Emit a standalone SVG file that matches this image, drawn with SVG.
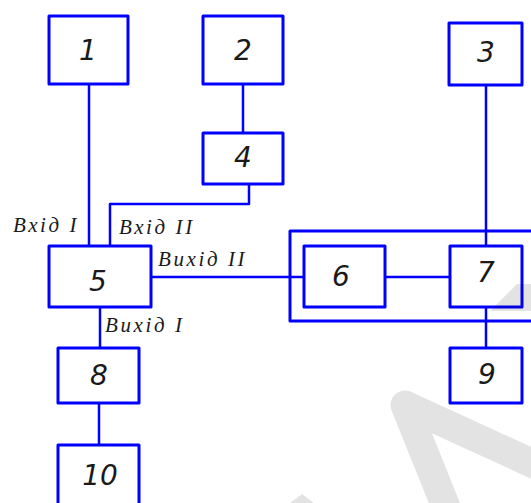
<svg xmlns="http://www.w3.org/2000/svg" width="531" height="503" viewBox="0 0 531 503">
  <style>
    .box { fill: #ffffff; stroke: #0000ff; stroke-width: 3; stroke-linejoin: round; }
    .frame { fill: none; stroke: #0000ff; stroke-width: 3; stroke-linejoin: round; }
    .wire { fill: none; stroke: #0000ff; stroke-width: 2.5; stroke-linejoin: round; }
    .num { font-family: "DejaVu Sans", "Liberation Sans", sans-serif; font-style: italic; font-size: 28px; fill: #1a1a1a; text-anchor: middle; }
    .lbl { font-family: "Liberation Serif", "DejaVu Serif", serif; font-style: italic; font-size: 21px; letter-spacing: 2.6px; fill: #1a1a1a; }
    .wm { fill: none; stroke: #000000; stroke-opacity: 0.11; stroke-width: 29; stroke-linejoin: round; }
    .wmf { fill: #000000; fill-opacity: 0.11; }
  </style>

  <rect width="531" height="503" fill="#ffffff"/>

  <!-- connectors -->
  <g id="connectors">
    <path class="wire" d="M 89 84 V 246"/>
    <path class="wire" d="M 243 84 V 133"/>
    <path class="wire" d="M 249 184 V 204 H 110 V 246"/>
    <path class="wire" d="M 486 85 V 246"/>
    <path class="wire" d="M 151 277 H 304"/>
    <path class="wire" d="M 385 277 H 450"/>
    <path class="wire" d="M 486 307 V 348"/>
    <path class="wire" d="M 100 307 V 348"/>
    <path class="wire" d="M 99 403 V 445"/>
  </g>

  <!-- enclosure around 6 and 7 -->
  <g id="enclosure">
    <path class="frame" d="M 540 231 H 290 V 321 H 540"/>
  </g>

  <g id="node1"><rect class="box" x="49" y="16" width="79" height="68"/><text class="num" x="88" y="60">1</text></g>
  <g id="node2"><rect class="box" x="203" y="16" width="80" height="68"/><text class="num" x="243" y="60">2</text></g>
  <g id="node3"><rect class="box" x="449" y="23" width="73" height="62"/><text class="num" x="486" y="62">3</text></g>
  <g id="node4"><rect class="box" x="203" y="133" width="80" height="51"/><text class="num" x="243" y="167">4</text></g>
  <g id="node5"><rect class="box" x="49" y="246" width="102" height="61"/><text class="num" x="98" y="291">5</text></g>
  <g id="node6"><rect class="box" x="304" y="246" width="81" height="61"/><text class="num" x="341" y="286">6</text></g>
  <g id="node7"><rect class="box" x="450" y="246" width="72" height="61"/><text class="num" x="486" y="282">7</text></g>
  <g id="node8"><rect class="box" x="58" y="348" width="81" height="55"/><text class="num" x="99" y="385">8</text></g>
  <g id="node9"><rect class="box" x="450" y="348" width="72" height="55"/><text class="num" x="487" y="384">9</text></g>
  <g id="node10"><rect class="box" x="58" y="445" width="81" height="70"/><text class="num" x="100" y="485">10</text></g>

  <!-- port labels -->
  <g id="labels">
    <text class="lbl" x="13" y="232">Вхід I</text>
    <text class="lbl" x="119" y="234">Вхід II</text>
    <text class="lbl" x="158" y="266">Вихід II</text>
    <text class="lbl" x="105" y="332">Вихід I</text>
  </g>

  <!-- faint background mark, lying over the lower right corner -->
  <g id="watermark">
    <path class="wm" d="M 560 476 L 405 405 L 452 522"/>
    <path class="wmf" d="M 490 311 L 517 284 L 531 284 L 531 311 Z"/>
    <path class="wmf" d="M 290 503 L 302 494 L 314 503 Z"/>
  </g>
</svg>
